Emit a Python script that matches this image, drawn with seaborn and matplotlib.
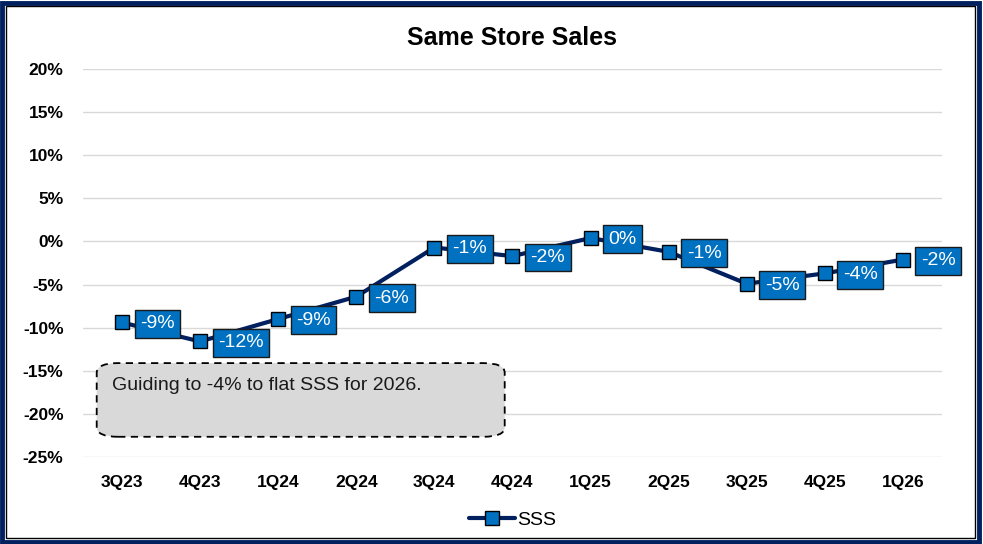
import pandas as pd
import matplotlib
matplotlib.use("Agg")
import matplotlib.pyplot as plt
import seaborn as sns
from matplotlib.patches import FancyBboxPatch, Rectangle
from matplotlib.ticker import FuncFormatter

# Data
QUARTERS = ["3Q23", "4Q23", "1Q24", "2Q24", "3Q24", "4Q24",
            "1Q25", "2Q25", "3Q25", "4Q25", "1Q26"]
SSS = [-9.4, -11.6, -9.0, -6.4, -0.7, -1.7, 0.4, -1.2, -4.9, -3.7, -2.1]
LABELS = ["-9%", "-12%", "-9%", "-6%", "-1%", "-2%",
          "0%", "-1%", "-5%", "-4%", "-2%"]
Y_TICKS = [-25, -20, -15, -10, -5, 0, 5, 10, 15, 20]
NOTE = "Guiding to -4% to flat SSS for 2026."

NAVY = "#002060"
BLUE = "#0070C0"

sns.set_style("white")
plt.rcParams["font.family"] = ["Liberation Sans", "DejaVu Sans"]
plt.rcParams["text.color"] = "black"
plt.rcParams["xtick.color"] = "black"
plt.rcParams["ytick.color"] = "black"

df = pd.DataFrame({"quarter": QUARTERS, "sss": SSS})

fig = plt.figure(figsize=(9.83, 5.44), dpi=100)
ax = fig.add_axes([0.0844, 0.160, 0.8738, 0.713])

sns.lineplot(data=df, x="quarter", y="sss", sort=False, ax=ax,
             color=NAVY, linewidth=3, marker="s", markersize=10,
             markerfacecolor=BLUE, markeredgecolor="black",
             markeredgewidth=1, label="SSS")

for i, (v, lab) in enumerate(zip(SSS, LABELS)):
    ax.annotate(lab, (i, v), xytext=(13, -1), textcoords="offset points",
                ha="left", va="center", color="white", fontsize=14,
                bbox=dict(boxstyle="square,pad=0.28", fc=BLUE,
                          ec="#1a1a1a", lw=1))

ax.set_xlim(-0.5, len(QUARTERS) - 0.5)
ax.set_ylim(-25, 20)
ax.set_yticks(Y_TICKS)
ax.yaxis.set_major_formatter(FuncFormatter(lambda v, p: f"{v:.0f}%"))
ax.grid(axis="y", color="#d9d9d9", lw=1)
ax.set_axisbelow(True)
for s in ax.spines.values():
    s.set_visible(False)
ax.tick_params(axis="both", length=0, labelsize=12.5, pad=14)
ax.tick_params(axis="x", pad=13)
for t in ax.get_xticklabels() + ax.get_yticklabels():
    t.set_fontweight("bold")
ax.set_xlabel("")
ax.set_ylabel("")

ax.set_title("Same Store Sales", fontsize=18, fontweight="bold", pad=17,
             color="black")

# Guidance note box
note_box = FancyBboxPatch((0.016, 0.052), 0.475, 0.190,
                          boxstyle="round,pad=0.0,rounding_size=0.025",
                          transform=ax.transAxes, fc="#d9d9d9", ec="black",
                          lw=1.3, ls=(0, (4, 3)), zorder=1)
ax.add_patch(note_box)
ax.text(0.034, 0.184, NOTE, transform=ax.transAxes, fontsize=14,
        va="center", ha="left", color="#1a1a1a", zorder=2)

leg = ax.legend(loc="upper center", bbox_to_anchor=(0.5, -0.095),
                frameon=False, fontsize=14, handlelength=2.4,
                handletextpad=0.1)

# Outer frame
fig.patches.append(Rectangle((0.002, 0.004), 0.994, 0.991,
                             transform=fig.transFigure, fill=False,
                             ec=NAVY, lw=3.5))
fig.patches.append(Rectangle((0.0065, 0.0105), 0.9855, 0.979,
                             transform=fig.transFigure, fill=False,
                             ec="black", lw=1))

fig.savefig("out.png", dpi=100)
